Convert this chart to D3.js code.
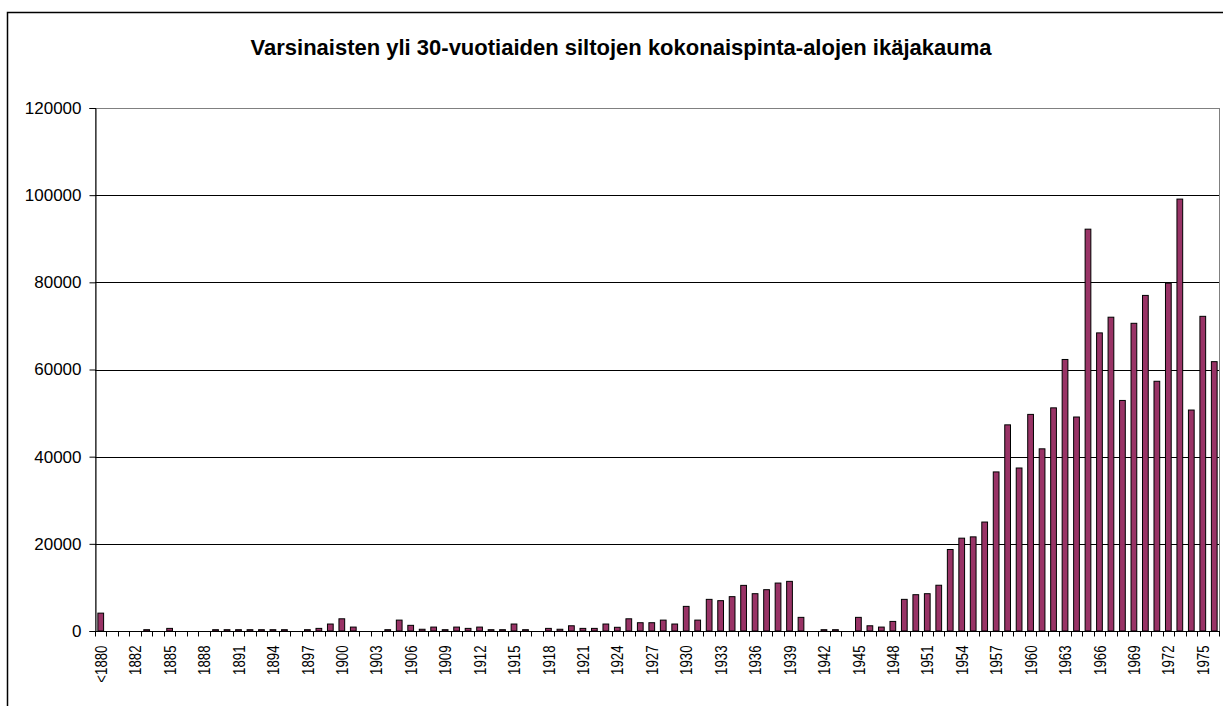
<!DOCTYPE html>
<meta charset="utf-8">
<title>Siltojen ikäjakauma</title>
<script src="https://d3js.org/d3.v7.min.js"></script>
<style>
  body { margin: 0; background: #fff; }
  svg text { font-family: "Liberation Sans", Arial, sans-serif; fill: #000; }
</style>
<body>
<div id="chart"></div>
<script>
// categories: "<1880" then the years 1880..1976
var categories = ["<1880",
  "1880","1881","1882","1883","1884","1885","1886","1887","1888","1889",
  "1890","1891","1892","1893","1894","1895","1896","1897","1898","1899",
  "1900","1901","1902","1903","1904","1905","1906","1907","1908","1909",
  "1910","1911","1912","1913","1914","1915","1916","1917","1918","1919",
  "1920","1921","1922","1923","1924","1925","1926","1927","1928","1929",
  "1930","1931","1932","1933","1934","1935","1936","1937","1938","1939",
  "1940","1941","1942","1943","1944","1945","1946","1947","1948","1949",
  "1950","1951","1952","1953","1954","1955","1956","1957","1958","1959",
  "1960","1961","1962","1963","1964","1965","1966","1967","1968","1969",
  "1970","1971","1972","1973","1974","1975","1976"];

// total surface area per construction year
var areas = [4100,
  0, 0, 0, 300, 0, 600, 0, 0, 0, 300,
  300, 300, 300, 300, 300, 300, 0, 300, 600, 1600,
  2800, 900, 0, 0, 300, 2500, 1300, 400, 900, 300,
  900, 600, 900, 300, 300, 1600, 300, 0, 600, 400,
  1200, 600, 600, 1600, 850, 2800, 1900, 1900, 2500, 1600,
  5650, 2500, 7260, 6960, 7880, 10470, 8560, 9480, 11000, 11390,
  3130, 0, 300, 300, 0, 3130, 1200, 900, 2200, 7260,
  8330, 8560, 10500, 18700, 21300, 21600, 25000, 36500, 47300, 37400,
  49700, 41800, 51200, 62300, 49100, 92200, 68400, 72000, 52900, 70600,
  77000, 57300, 79800, 99100, 50700, 72200, 61800];

var yTicks = [0, 20000, 40000, 60000, 80000, 100000, 120000];

var title = "Varsinaisten yli 30-vuotiaiden siltojen kokonaispinta-alojen ikäjakauma";

var data = categories.map(function(c, i) { return {cat: c, value: areas[i]}; });

var W = 1223, H = 706;
var margin = {top: 108, right: 3, bottom: 75, left: 95};
var width = W - margin.left - margin.right,
    height = H - margin.top - margin.bottom;

var svg = d3.select("#chart").append("svg")
    .attr("width", W)
    .attr("height", H);

// outer chart frame (runs off the right and bottom edges)
svg.append("rect")
    .attr("x", 7.5).attr("y", 12.5)
    .attr("width", 1240).attr("height", 720)
    .attr("fill", "none")
    .attr("stroke", "#000")
    .attr("stroke-width", 1.5);

svg.append("text")
    .attr("x", 621)
    .attr("y", 54.5)
    .attr("text-anchor", "middle")
    .attr("font-size", "22px")
    .attr("font-weight", "bold")
    .text(title);

var g = svg.append("g")
    .attr("transform", "translate(" + margin.left + "," + margin.top + ")");

// category slots (ticks + labels) and bars inside them
var xCat = d3.scaleBand().domain(categories).range([0, width]).padding(0);
var x = d3.scaleBand().domain(categories).range([0, width])
    .paddingInner(0.5).paddingOuter(0.25);

var y = d3.scaleLinear().domain([0, 120000]).range([height, 0]);

// plot area border
g.append("rect")
    .attr("x", 0.5).attr("y", 0.5)
    .attr("width", width - 1).attr("height", height)
    .attr("fill", "none")
    .attr("stroke", "#808080");

// gridlines
g.append("g")
  .selectAll("line")
  .data(yTicks.filter(function(d) { return d > 0 && d < 120000; }))
  .enter().append("line")
    .attr("x1", 0).attr("x2", width - 1)
    .attr("y1", function(d) { return Math.round(y(d)) + 0.5; })
    .attr("y2", function(d) { return Math.round(y(d)) + 0.5; })
    .attr("stroke", "#000");

// y axis
var yAxis = g.append("g")
    .attr("transform", "translate(0.5,0)")
    .call(d3.axisLeft(y).tickValues(yTicks).tickSize(6).tickPadding(8)
      .tickFormat(d3.format("d")));
yAxis.select(".domain").attr("stroke", "#000");
yAxis.selectAll("text").attr("font-size", "17px");
yAxis.selectAll(".tick line").attr("stroke", "#000");

// bars
g.selectAll("rect.bar")
  .data(data)
  .enter().append("rect")
    .attr("class", "bar")
    .attr("x", function(d) { return x(d.cat); })
    .attr("y", function(d) { return y(d.value); })
    .attr("width", x.bandwidth())
    .attr("height", function(d) { return height - y(d.value); })
    .attr("fill", "#993366")
    .attr("stroke", "#000")
    .attr("stroke-width", 1);

// x axis
var xa = g.append("g").attr("transform", "translate(0," + (height + 0.5) + ")");
xa.append("line")
    .attr("x1", 0).attr("x2", width)
    .attr("stroke", "#000");
xa.selectAll("line.tick")
  .data(categories.concat(["_end"]))
  .enter().append("line")
    .attr("class", "tick")
    .attr("x1", function(d) { return d === "_end" ? width - 0.5 : Math.round(xCat(d)) + 0.5; })
    .attr("x2", function(d) { return d === "_end" ? width - 0.5 : Math.round(xCat(d)) + 0.5; })
    .attr("y1", 0).attr("y2", 5)
    .attr("stroke", "#000");

// rotated labels on every third slot, narrowed along the baseline
xa.selectAll("text")
  .data(categories.filter(function(d, i) { return i % 3 === 0; }))
  .enter().append("text")
    .attr("transform", function(d) {
      return "translate(" + (xCat(d) + xCat.bandwidth() / 2) + ",14) rotate(-90) scale(0.78,1)";
    })
    .attr("text-anchor", "end")
    .attr("dy", "0.36em")
    .attr("font-size", "17px")
    .text(function(d) { return d; });
</script>
</body>
